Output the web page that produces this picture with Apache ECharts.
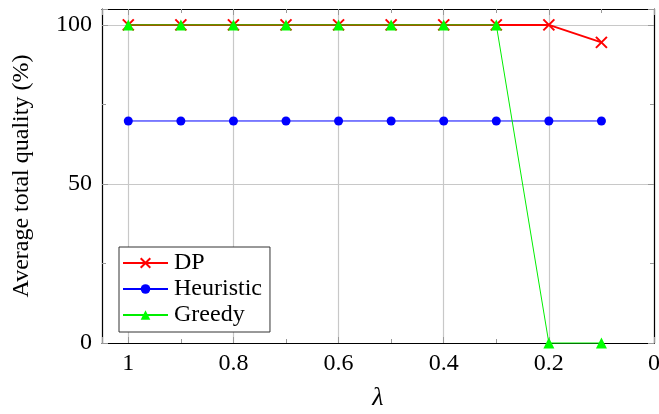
<!DOCTYPE html>
<html><head><meta charset="utf-8">
<script src="https://cdn.jsdelivr.net/npm/echarts@6/dist/echarts.min.js"></script>
<style>html,body{margin:0;padding:0;background:#fff}#c{width:659px;height:414px}</style>
</head><body><div id="c"></div>
<script>
const lambdas = [1, 0.9, 0.8, 0.7, 0.6, 0.5, 0.4, 0.3, 0.2, 0.1];
const dpValues = [100, 100, 100, 100, 100, 100, 100, 100, 100, 94.5];
const heuristicValues = [69.8, 69.8, 69.8, 69.8, 69.8, 69.8, 69.8, 69.8, 69.8, 69.8];
const greedyValues = [100, 100, 100, 100, 100, 100, 100, 100, 0, 0];
const seriesNames = ['DP', 'Heuristic', 'Greedy'];

const font = 'Liberation Serif, DejaVu Serif, serif';
const pair = v => lambdas.map((x, i) => [x, v[i]]);
const xShape = 'path://M0,0L10,10M10,0L0,10';

const chart = echarts.init(document.getElementById('c'));
const axisCommon = {
  axisLine: {show: true, onZero: false, lineStyle: {color: '#000', width: 1.2}},
  axisTick: {show: true, inside: true, length: 6, lineStyle: {color: '#999'}},
  minorTick: {show: true, splitNumber: 2, length: 4, lineStyle: {color: '#999'}},
};
chart.setOption({
  animation: false,
  textStyle: {fontFamily: font},
  grid: {left: 102, right: 5, top: 9, bottom: 71, containLabel: false, outerBoundsMode: 'none'},
  xAxis: [
    Object.assign({type: 'value', min: 0, max: 1.05, interval: 0.2, inverse: true, position: 'bottom',
      name: 'λ', nameLocation: 'middle', nameGap: 42,
      nameTextStyle: {fontFamily: font, fontSize: 26, fontStyle: 'italic', color: '#000'},
      axisLabel: {fontFamily: font, fontSize: 24, color: '#000', margin: 9, showMaxLabel: false},
      splitLine: {show: true, lineStyle: {color: '#c8c8c8', width: 1.2}}}, axisCommon),
    Object.assign({type: 'value', min: 0, max: 1.05, interval: 0.2, inverse: true, position: 'top',
      axisLabel: {show: false}, splitLine: {show: false}}, axisCommon)
  ],
  yAxis: [
    Object.assign({type: 'value', min: 0, max: 105, interval: 50, position: 'left',
      name: 'Average total quality (%)', nameLocation: 'middle', nameGap: 68,
      nameTextStyle: {fontFamily: font, fontSize: 24, color: '#000'},
      axisLabel: {fontFamily: font, fontSize: 24, color: '#000', margin: 10, showMaxLabel: false},
      splitLine: {show: true, lineStyle: {color: '#c8c8c8', width: 1.2}}}, axisCommon),
    Object.assign({type: 'value', min: 0, max: 105, interval: 50, position: 'right',
      axisLabel: {show: false}, splitLine: {show: false}}, axisCommon)
  ],
  legend: {
    orient: 'vertical', left: 119, top: 247,
    padding: [4, 8, 5, 3], itemGap: 2, itemWidth: 45, itemHeight: 12,
    borderColor: '#333', borderWidth: 1, backgroundColor: '#fff',
    textStyle: {fontFamily: font, fontSize: 24, color: '#000', padding: [0, 0, 0, 1]},
    data: seriesNames
  },
  series: [
    {name: seriesNames[0], type: 'line', data: pair(dpValues), clip: false,
      symbol: xShape, symbolSize: 11,
      lineStyle: {color: '#ff0000', width: 2},
      itemStyle: {color: '#ff0000', borderColor: '#ff0000', borderWidth: 2}},
    {name: seriesNames[1], type: 'line', data: pair(heuristicValues), clip: false,
      symbol: 'circle', symbolSize: 9,
      lineStyle: {color: '#0000ff', width: 1},
      itemStyle: {color: '#0000ff'}},
    {name: seriesNames[2], type: 'line', data: pair(greedyValues), clip: false,
      symbol: 'triangle', symbolSize: 11,
      lineStyle: {color: '#00ee00', width: 1},
      itemStyle: {color: '#00ff00'}}
  ]
});
</script></body></html>
